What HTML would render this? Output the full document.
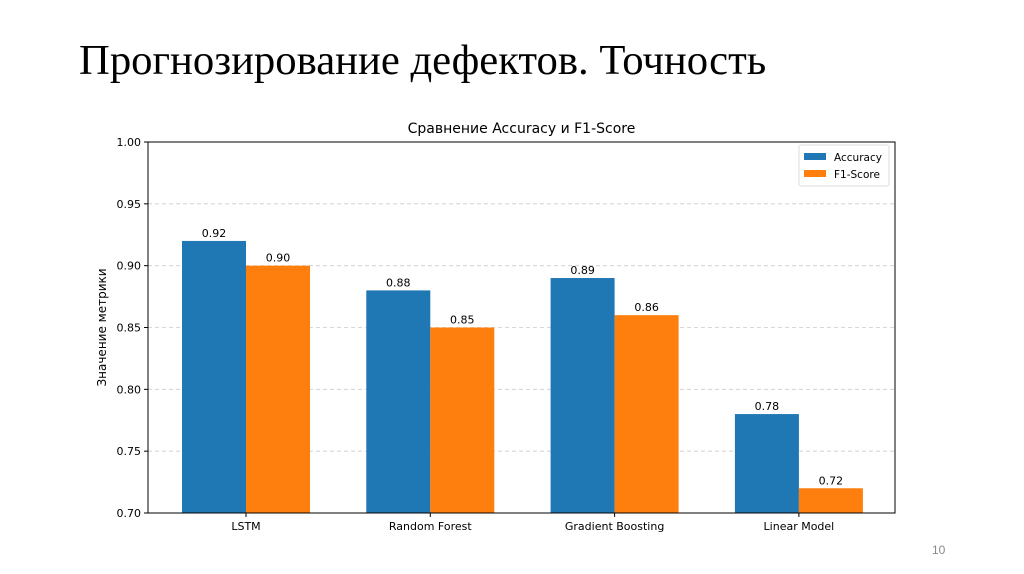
<!DOCTYPE html>
<html><head><meta charset="utf-8"><style>
body{margin:0;width:1024px;height:574px;background:#fff;overflow:hidden;position:relative;font-family:"Liberation Sans","DejaVu Sans",sans-serif}
#title{position:absolute;left:79px;top:36px;font-family:"Liberation Serif",serif;font-size:42.7px;color:#000;margin:0;font-weight:normal;white-space:nowrap}
#pg{position:absolute;left:932px;top:543px;font-size:12px;color:#888}
</style></head><body>
<h1 id="title">Прогнозирование дефектов. Точность</h1>
<div id="pg">10</div>
<svg id="chart" width="1024" height="574" style="position:absolute;left:0;top:0" font-family="DejaVu Sans, sans-serif"></svg>
<script>
const categories=["LSTM","Random Forest","Gradient Boosting","Linear Model"];
const accuracy=[0.92,0.88,0.89,0.78];
const f1=[0.90,0.85,0.86,0.72];
const yTicks=[0.70,0.75,0.80,0.85,0.90,0.95,1.00];
const svg=document.getElementById('chart');
const NS='http://www.w3.org/2000/svg';
const L=148,R=895,T=142,B=513,ymin=0.70,ymax=1.00;
const y=v=>B-(v-ymin)/(ymax-ymin)*(B-T);
const gx=i=>246+i*184.3;
const bw=64;
function mk(t,a,txt){const e=document.createElementNS(NS,t);for(const k in a)e.setAttribute(k,a[k]);if(txt!==undefined)e.textContent=txt;svg.appendChild(e);return e;}
yTicks.forEach(v=>{
 if(v>ymin&&v<ymax){const g=mk('line',{x1:L,x2:R,y1:y(v),y2:y(v),stroke:'#ccc','stroke-dasharray':'4,3','stroke-width':0.8});
 
 }
 const tk=mk('line',{x1:L-4,x2:L,y1:y(v),y2:y(v),stroke:'#000'});
 
 
 const t=mk('text',{x:L-7,y:y(v)+4,'text-anchor':'end','font-size':11,fill:'#000'},v.toFixed(2));
 
 
});
categories.forEach((c,i)=>{
 const cx=gx(i);
 [[accuracy[i],'#1f77b4',cx-bw,'bar-accuracy'],[f1[i],'#ff7f0e',cx,'bar-f1']].forEach(([v,col,x,n])=>{
  const b=mk('rect',{x:x,y:y(v),width:bw,height:B-y(v),fill:col});
  
  
  const l=mk('text',{x:x+bw/2,y:y(v)-4,'text-anchor':'middle','font-size':11,fill:'#000'},v.toFixed(2));
  
  
 });
 const tk=mk('line',{x1:cx,x2:cx,y1:B,y2:B+4,stroke:'#000'});
 
 
 const t=mk('text',{x:cx,y:B+17,'text-anchor':'middle','font-size':11,fill:'#000'},c);
 
 
});
const fr=mk('rect',{x:L,y:T,width:R-L,height:B-T,fill:'none',stroke:'#000','stroke-width':1});


const ct=mk('text',{x:(L+R)/2,y:T-9,'text-anchor':'middle','font-size':14,fill:'#000'},'Сравнение Accuracy и F1-Score');


const yt=mk('text',{x:0,y:0,'text-anchor':'middle','font-size':12,fill:'#000',transform:`translate(106,${(T+B)/2}) rotate(-90)`},'Значение метрики');


const lg=mk('rect',{x:799,y:145,width:90,height:41,fill:'#fff',stroke:'#ddd',rx:2});


[['Accuracy','#1f77b4',157],['F1-Score','#ff7f0e',174]].forEach(([n,c,yy])=>{
 const s=mk('rect',{x:804,y:yy-4,width:22,height:7,fill:c});
 
 
 const t=mk('text',{x:834,y:yy+4,'font-size':10.5,fill:'#000'},n);
 
 
});
</script>
</body></html>
